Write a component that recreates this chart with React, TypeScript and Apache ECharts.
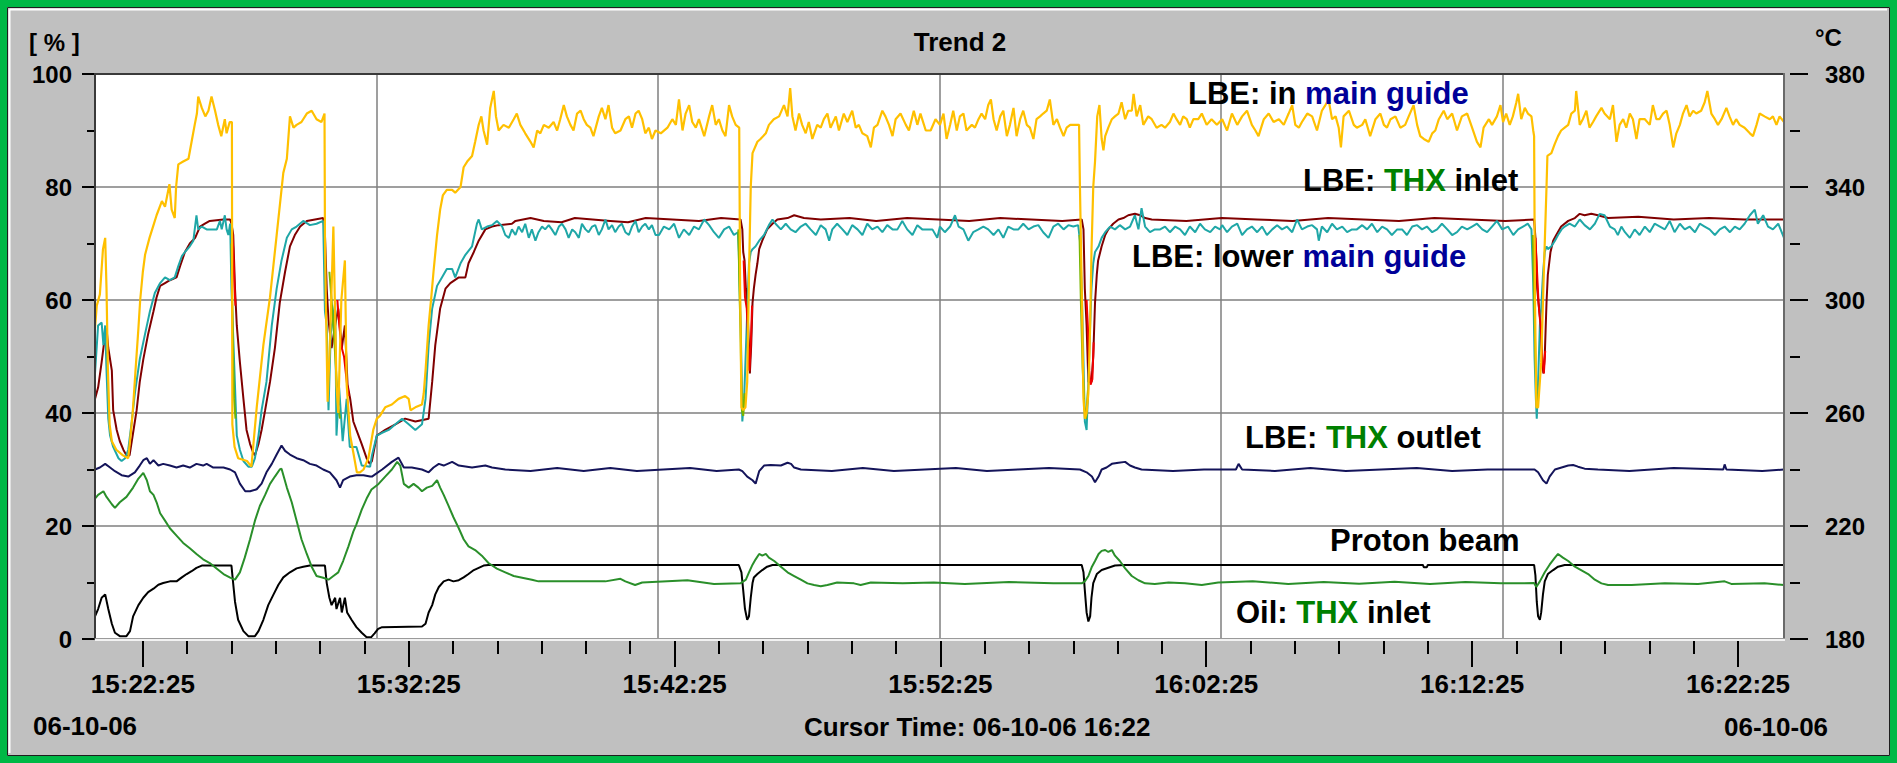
import React, { useEffect, useRef } from "react";
import * as echarts from "echarts";

// x values: seconds after 15:00:00
const X_MIN = 1237; // 15:20:37
const X_MAX = 5049; // 16:24:09
const majorTimeTicks = [1345, 1945, 2545, 3145, 3745, 4345, 4945];
const minorTimeTicks = [
  1445, 1545, 1645, 1745, 1845, 2045, 2145, 2245, 2345, 2445, 2645, 2745, 2845, 2945, 3045,
  3245, 3345, 3445, 3545, 3645, 3845, 3945, 4045, 4145, 4245, 4445, 4545, 4645, 4745, 4845,
];
const tempTicks = [180, 220, 260, 300, 340, 380];
const tempMinorTicks = [200, 240, 280, 320, 360];

// LBE: in main guide  (°C)
const lbeMainGuide = [
  [1237,290],[1241,298],[1248,302],[1255,318],[1260,322],[1263,304],[1266,276],[1270,256],[1275,250],[1285,247],[1300,245],[1312,244],[1316,250],[1322,260],[1328,274],[1335,290],[1339,300],[1345,310],[1350,316],[1360,322],[1368,326],[1376,330],[1388,335],[1395,333],[1405,341],[1410,332],[1417,329],[1420,340],[1425,348],[1436,349],[1448,350],[1455,356],[1462,362],[1467,366],[1470,372],[1478,368],[1486,365],[1493,367],[1500,372],[1508,367],[1515,362],[1522,358],[1530,364],[1534,359],[1541,363],[1546,363],[1547,256],[1552,248],[1560,244],[1580,243],[1590,241],[1602,262],[1617,284],[1632,301],[1647,323],[1662,345],[1670,350],[1677,365],[1685,361],[1692,362],[1703,363],[1715,366],[1726,367],[1737,364],[1748,363],[1755,366],[1756,322],[1758,300],[1762,264],[1768,288],[1775,326],[1782,270],[1786,260],[1793,300],[1801,314],[1805,270],[1813,252],[1820,246],[1828,239],[1835,239],[1843,240],[1854,244],[1865,254],[1873,258],
  [1880,259],[1892,262],[1907,263],[1922,265],[1937,266],[1945,265],[1949,261],[1960,262],[1975,263],[1979,267],[1983,275],[1990,291],[1996,301],[2001,310],[2009,323],[2016,332],[2022,337],[2031,339],[2043,339],[2050,338],[2062,340],[2069,347],[2077,349],[2088,351],[2095,356],[2103,362],[2109,365],[2114,360],[2122,355],[2129,368],[2137,374],[2142,365],[2148,360],[2159,362],[2171,361],[2182,364],[2189,366],[2197,362],[2208,359],[2220,356],[2227,354],[2235,360],[2242,359],[2250,362],[2261,361],[2272,363],[2280,360],[2287,364],[2295,369],[2302,365],[2310,362],[2317,360],[2325,366],[2333,367],[2340,364],[2347,362],[2355,361],[2362,358],[2374,365],[2381,368],[2389,364],[2396,369],[2404,361],[2411,359],[2423,360],[2434,364],[2442,365],[2449,361],[2457,366],[2464,367],[2472,364],[2479,359],[2487,361],[2494,357],[2502,360],
  [2514,359],[2529,361],[2540,364],[2548,362],[2555,371],[2563,360],[2570,366],[2578,369],[2585,363],[2593,361],[2600,364],[2612,358],[2623,365],[2630,369],[2638,362],[2645,364],[2653,360],[2660,358],[2668,369],[2675,365],[2683,362],[2691,361],[2693,304],[2696,262],[2700,261],[2705,262],[2709,271],[2714,317],[2717,340],[2721,352],[2732,356],[2739,357],[2751,359],[2758,362],[2769,364],[2781,365],[2792,369],[2800,365],[2806,375],[2811,365],[2818,360],[2826,366],[2833,362],[2841,359],[2848,363],[2856,357],[2867,362],[2875,361],[2882,364],[2890,366],[2897,361],[2909,365],[2916,360],[2927,366],[2935,363],[2946,367],[2954,361],[2961,362],[2969,359],[2980,358],[2988,354],[2995,361],[3003,362],[3014,367],[3021,365],[3029,362],[3037,358],[3044,364],[3055,366],[3067,362],[3074,360],[3085,367],[3093,362],[3100,366],[3112,360],[3123,360],[3134,364],
  [3144,362],[3152,366],[3159,357],[3167,362],[3174,367],[3182,360],[3189,365],[3197,366],[3204,360],[3216,362],[3223,361],[3231,364],[3238,366],[3246,364],[3253,369],[3259,371],[3265,364],[3272,360],[3280,365],[3287,367],[3295,358],[3302,362],[3310,368],[3317,358],[3325,364],[3332,367],[3340,362],[3347,361],[3355,357],[3362,364],[3370,365],[3377,366],[3385,367],[3392,371],[3400,362],[3408,364],[3415,361],[3423,358],[3430,361],[3438,362],[3445,362],[3453,362],[3458,362],[3460,340],[3464,304],[3468,265],[3471,258],[3475,260],[3479,267],[3483,291],[3486,317],[3490,340],[3494,349],[3499,365],[3504,369],[3509,357],[3513,353],[3517,358],[3524,361],[3532,364],[3539,365],[3547,366],[3554,370],[3562,364],[3569,367],[3577,367],[3581,373],[3588,365],[3596,369],[3603,362],[3614,365],[3622,364],[3633,361],[3644,362],[3652,361],[3663,363],[3671,366],[3678,364],[3686,362],[3693,365],[3701,364],[3708,361],[3716,364],[3727,364],[3735,366],[3746,362],[3757,364],[3769,362],
  [3781,364],[3792,360],[3803,366],[3815,362],[3826,365],[3837,367],[3848,362],[3856,360],[3863,358],[3875,364],[3886,366],[3897,363],[3909,364],[3920,362],[3931,366],[3939,369],[3946,362],[3954,361],[3961,363],[3973,366],[3984,365],[3995,360],[4006,367],[4014,369],[4021,371],[4029,364],[4037,365],[4044,361],[4049,354],[4055,365],[4067,367],[4078,362],[4085,361],[4097,362],[4104,364],[4115,358],[4127,364],[4138,366],[4146,362],[4153,361],[4161,364],[4172,365],[4183,361],[4194,362],[4202,365],[4213,369],[4221,362],[4228,358],[4236,357],[4247,356],[4255,359],[4262,360],[4270,364],[4281,367],[4289,364],[4300,366],[4311,360],[4322,365],[4334,366],[4345,361],[4356,356],[4364,354],[4371,361],[4383,364],[4390,362],[4401,365],[4409,369],
  [4415,363],[4422,366],[4430,362],[4437,365],[4445,370],[4449,373],[4456,364],[4464,368],[4471,366],[4479,365],[4483,360],[4485,358],[4487,300],[4490,262],[4494,262],[4501,278],[4507,310],[4513,340],[4515,351],[4524,352],[4531,355],[4539,358],[4546,360],[4554,361],[4562,362],[4569,366],[4577,367],[4580,374],[4588,362],[4595,364],[4603,367],[4610,361],[4618,363],[4625,365],[4637,368],[4644,366],[4656,364],[4663,369],[4671,356],[4678,362],[4686,364],[4693,361],[4701,366],[4708,364],[4716,357],[4723,364],[4735,364],[4746,362],[4753,369],[4761,364],[4768,364],[4776,366],[4784,367],[4791,362],[4799,354],[4806,359],[4814,362],[4821,366],[4829,369],[4836,365],[4844,367],[4851,366],[4862,367],[4870,370],[4876,374],[4885,366],[4893,364],[4900,362],[4908,364],[4919,368],[4926,365],[4934,362],[4941,364],[4949,362],[4960,361],[4972,359],[4979,358],[4987,362],[4994,366],[5005,365],[5017,364],[5024,365],[5032,362],[5039,365],[5049,363],
];

// LBE: THX inlet (°C)
const lbeThxInlet = [
  [1237,265],[1244,269],[1252,278],[1260,288],[1263,290],[1267,283],[1275,275],[1278,261],[1286,254],[1293,250],[1301,247],[1308,245],[1315,245],[1323,253],[1331,261],[1338,271],[1346,279],[1357,288],[1369,296],[1376,301],[1384,305],[1395,306],[1406,307],[1421,308],[1429,312],[1440,317],[1451,320],[1463,322],[1474,326],[1485,327],[1496,328],[1527,328.5],[1542,328.5],[1545,327],[1549,323],[1553,304],[1557,291],[1564,278],[1572,265],[1579,254],[1587,249],[1594,246],[1598,245],[1606,249],[1613,254],[1621,261],[1632,271],[1643,283],[1654,299],[1666,310],[1677,319],[1688,323],[1700,326],[1715,328],[1752,329],[1756,323],[1760,304],[1764,293],[1771,283],[1779,291],[1786,297],[1794,283],[1801,291],[1807,270],[1813,265],[1820,257],[1827,254],[1839,249],[1850,244],[1857,242],[1862,243],[1873,252],[1892,254],[1915,256],[1937,258],[1960,257],[1990,258],[1998,271],[2005,284],[2016,297],[2028,304],[2039,306],[2058,308],[2073,308],[2080,313],[2092,317],[2103,321],[2118,325],[2133,326],[2148,326.5],[2178,327],[2186,328],[2220,329],[2250,328],[2290,327.5],[2320,329],[2360,328.5],[2400,328],[2440,327.5],[2480,329],[2540,328.5],[2600,328],[2650,329],[2694,328.5],[2698,325],[2700,317],[2703,314],[2706,304],[2709,299],[2713,284],[2715,274],[2718,284],[2721,299],[2724,304],[2728,309],[2732,313],[2736,318],[2743,321],[2754,325],[2766,327],[2777,328.5],[2800,329],[2815,330],[2837,329],[2875,328.5],[2940,329],[3000,328],[3070,329],[3140,328.5],[3210,328],[3280,329],[3350,328.5],[3420,328],[3464,328.5],[3468,325],[3471,304],[3475,291],[3479,271],[3486,271],[3490,280],[3494,299],[3498,309],[3501,314],[3509,319],[3517,323],[3524,325],[3535,327],[3547,328.5],[3558,329],[3569,330],[3584,330.5],[3596,330],[3607,329],[3622,328.5],[3700,328],[3780,329],[3860,328.5],[3940,328],[4020,329],[4100,328.5],[4180,328],[4260,329],[4340,328.5],[4420,328],[4485,328.5],[4488,322],[4490,314],[4492,304],[4495,299],[4500,291],[4503,278],[4506,274],[4509,280],[4513,299],[4516,309],[4522,317],[4528,321],[4535,323],[4546,326],[4562,328],[4577,329],[4588,330.5],[4599,330],[4614,330.5],[4629,330],[4652,329],[4720,329.5],[4800,328.5],[4880,329],[4960,328.5],[5049,328.5],
];

// LBE: lower main guide (°C)
const lbeLowerMainGuide = [
  [1237,274],[1244,291],[1252,292],[1256,284],[1260,291],[1263,275],[1267,258],[1271,252],[1278,248],[1290,244],[1297,243],[1305,244],[1312,247],[1320,257],[1327,267],[1338,279],[1350,288],[1361,296],[1372,302.5],[1384,306],[1395,308],[1406,307],[1417,308],[1425,312],[1433,315.5],[1440,317],[1451,319],[1459,321],[1466,330],[1470,325],[1478,326],[1489,325],[1500,325],[1512,325],[1519,328],[1523,325],[1530,330],[1534,325],[1538,323],[1542,327],[1545,304],[1548,291],[1557,252],[1564,247],[1572,243],[1583,241],[1591,241],[1598,244],[1606,252],[1613,261],[1624,271],[1636,291],[1647,304],[1658,314],[1670,322],[1681,325],[1692,326],[1707,328],[1722,326.5],[1737,327],[1752,328],[1756,296],[1760,291],[1764,261],[1769,288],[1779,299],[1782,252],[1788,269],[1796,250],[1805,265],[1812,248],[1827,248],[1839,241.4],[1858,241],
  [1862,245],[1873,252],[1885,253],[1900,254],[1915,256],[1930,258],[1945,256],[1960,254],[1975,256],[1983,265],[1990,284],[1998,297],[2009,305],[2020,308],[2031,311],[2043,311],[2050,308],[2062,313],[2073,316],[2088,319],[2099,327],[2103,328.5],[2110,325],[2122,326],[2133,326.5],[2144,328],[2156,326],[2163,323],[2171,322],[2178,325],[2186,323],[2193,326],[2201,324],[2208,327],[2216,322],[2223,325],[2231,321],[2238,324],[2246,326],[2253,325],[2261,326.5],[2268,325],[2276,323],[2284,326],[2291,327],[2299,325],[2306,322],[2314,325],[2321,324],[2329,322],[2336,327],[2344,325],[2351,324],[2359,326],[2366,326.5],[2374,323],[2381,325],[2389,328.5],[2396,325],[2404,326.5],[2411,324],[2419,326],[2426,327],[2434,324],[2442,323],[2449,326],[2457,328],[2464,324],[2472,326],[2479,327],[2487,325],[2494,326.5],[2502,323],
  [2510,323],[2521,326],[2533,325],[2544,327],[2555,322],[2566,325],[2578,323],[2589,326],[2600,325],[2612,328.5],[2623,326.5],[2634,324],[2645,322],[2657,325],[2668,326],[2679,323],[2688,324],[2690,317],[2693,299],[2696,278],[2698,257],[2702,265],[2708,291],[2713,313],[2717,317],[2721,318],[2728,319],[2736,321],[2747,323],[2758,326.5],[2766,328.5],[2773,327],[2785,325],[2796,327],[2807,325],[2818,324],[2830,326],[2841,327],[2852,325],[2864,323],[2875,326.5],[2886,325],[2894,321],[2901,325],[2912,327],[2924,325],[2935,323],[2946,326.5],[2958,325],[2969,323],[2980,327],[2991,325],[3003,326],[3014,324],[3025,326.5],[3037,325],[3048,325],[3059,328],[3070,325],[3082,323],[3093,326.5],[3104,325],[3116,325],[3127,325],[3138,322],
  [3144,326],[3155,324],[3167,326],[3178,330],[3186,326],[3197,325],[3208,321],[3219,324],[3231,325],[3242,326],[3253,325],[3265,323],[3276,325],[3287,322],[3298,326],[3310,325],[3321,325],[3332,327],[3344,325],[3355,326],[3366,326.5],[3377,324],[3389,322],[3400,326],[3411,327],[3423,325],[3434,326.5],[3445,326],[3456,326.5],[3460,321],[3464,304],[3468,278],[3471,257],[3475,254],[3479,271],[3483,291],[3486,304],[3490,313],[3494,317],[3502,319],[3509,322],[3517,324],[3528,326],[3539,325],[3550,326.5],[3562,325],[3573,326],[3584,330],[3592,325],[3599,332.5],[3607,326],[3618,324],[3629,325],[3641,325],[3652,326],[3663,324],[3675,326],[3686,325],[3697,323],[3708,326],[3720,324],[3731,327],[3742,325],[3754,324],[3765,326],[3776,325],
  [3781,326.5],[3792,324],[3803,326],[3815,327],[3826,323],[3837,325],[3848,326],[3860,324],[3871,326],[3882,323],[3894,325],[3905,326.5],[3916,325],[3927,326],[3939,324],[3950,328.5],[3961,325],[3973,326],[3984,326.5],[3995,325],[3999,321],[4006,326],[4018,324],[4029,327],[4040,325],[4052,326],[4063,324],[4074,325],[4085,325],[4097,326.5],[4108,325],[4119,327],[4131,324],[4142,326],[4153,325],[4164,323],[4176,325],[4187,325],[4198,323],[4210,326],[4221,326.5],[4232,325],[4243,326],[4255,324],[4266,325],[4277,327],[4289,325],[4300,323],[4311,324],[4322,326],[4334,325],[4345,326],[4356,327],[4368,325],[4379,324],[4390,326],[4401,328],[4413,325],
  [4426,326],[4438,323],[4449,325],[4460,326],[4471,327],[4479,325],[4483,306],[4486,280],[4489,265],[4491,258],[4494,271],[4498,291],[4501,297],[4505,309],[4509,317],[4513,319],[4516,318],[4524,319],[4532,321],[4539,323],[4547,325],[4554,326],[4565,327],[4577,326],[4588,328.5],[4599,326.5],[4611,325],[4622,327],[4633,330.5],[4644,330],[4656,326],[4667,325],[4674,323],[4682,326],[4690,324],[4701,322],[4712,325],[4723,323],[4735,326],[4746,324],[4757,327],[4769,326],[4780,325],[4791,328],[4802,324],[4814,327],[4825,325],[4836,326],[4848,324],[4859,327],[4870,326],[4881,325],[4893,323],[4904,325],[4915,326],[4927,324],[4938,326],[4949,325],[4960,327],[4972,330],[4983,332],[4990,327],[5002,330],[5013,326],[5024,325],[5036,327],[5049,322],
];

// LBE: THX outlet (°C)
const lbeThxOutlet = [
  [1237,240],[1248,240.7],[1260,242],[1271,240.7],[1282,239.4],[1297,238],[1312,237.5],[1327,239],[1338,241.4],[1346,243.3],[1354,244],[1361,242],[1369,243.3],[1380,241.4],[1391,242],[1406,241.4],[1421,240.7],[1436,241.4],[1451,240.7],[1466,242],[1481,241.4],[1489,242],[1504,240.7],[1527,240.7],[1542,240],[1553,239],[1564,235],[1576,232.3],[1587,232.3],[1602,233],[1613,235],[1624,239],[1636,242],[1647,245.3],[1658,248.5],[1666,246.6],[1677,245.3],[1692,244],[1707,243.3],[1722,242],[1737,241.4],[1752,240],[1767,239],[1782,236.2],[1790,233.6],[1797,236.2],[1812,237.5],[1827,238],[1843,238],[1858,237.5],[1862,237.5],[1885,240],[1907,242.7],[1922,244.2],[1934,240.7],[1952,240.7],[1975,240],[1990,239],[2001,240.7],[2013,242],[2024,241.4],[2043,242.7],[2058,241.4],[2088,240.7],[2118,241.4],[2133,240.7],[2163,240],[2220,239.5],[2280,240.5],[2340,239.5],[2400,240.5],[2460,239.5],[2520,240],[2580,240.5],[2640,239.5],[2690,240],[2698,239.4],[2709,237.5],[2721,236.2],[2728,235],[2736,239.4],[2747,241.4],[2762,241.6],[2785,241.4],[2800,242.4],[2808,242],[2815,240.7],[2830,240],[2900,239.5],[2970,240.5],[3040,239.5],[3110,240],[3180,240.5],[3250,239.5],[3320,240],[3390,240.5],[3460,240],[3475,239],[3487,237.5],[3494,235.5],[3502,237.5],[3509,240],[3520,240.7],[3532,242],[3547,242.4],[3562,242.7],[3573,241.4],[3584,240.7],[3599,240],[3670,239.5],[3740,240],[3812,240],[3818,242],[3826,240],[3900,239.5],[3980,240.5],[4060,239.5],[4140,240],[4220,240.5],[4300,239.5],[4380,240],[4486,240],[4494,239],[4505,236.2],[4513,235],[4520,237.5],[4532,240],[4547,240.7],[4562,241.4],[4573,241.6],[4584,241],[4599,240.3],[4629,240],[4700,239.5],[4800,240.5],[4912,240],[4915,241.8],[4919,240],[5000,239.5],[5049,240],
];

// Oil: THX inlet (°C)
const oilThxInlet = [
  [1237,229.7],[1244,231],[1256,232.3],[1263,230.3],[1275,227.7],[1282,226.4],[1293,228.4],[1308,230.3],[1323,233.6],[1335,236.8],[1346,238.8],[1354,236.2],[1361,232.3],[1369,231],[1376,228.4],[1384,224.5],[1395,221.9],[1406,219.2],[1421,216.6],[1436,214],[1451,212.1],[1466,210.1],[1481,208.2],[1496,206.9],[1512,204.9],[1527,203],[1542,201.7],[1553,201],[1564,203.6],[1575,208.8],[1587,215.3],[1598,221.9],[1609,227.1],[1621,231],[1632,234.9],[1643,237.5],[1654,240],[1658,240.3],[1670,233.6],[1681,228.4],[1692,221.9],[1703,215.3],[1715,210.1],[1726,205.6],[1737,202.3],[1752,201.7],[1764,201],[1775,202.3],[1786,203.6],[1797,207.6],[1809,212.8],[1820,218],[1827,220.6],[1839,225.8],[1850,229.7],[1861,232.9],[1877,234.9],[1892,237.5],[1907,240],[1919,242.7],[1926,241.4],[1934,234.9],[1945,233.6],[1956,234.9],[1967,233.6],[1975,232.3],[1986,233.6],[1998,234.2],[2009,236.2],[2016,233.6],[2024,231],[2035,227.1],[2046,223.1],[2058,219.2],[2069,215.3],[2080,212.8],[2095,211.5],[2110,209.5],[2125,206.9],[2144,204.9],[2163,203.6],[2182,202.3],[2201,201.7],[2223,201],[2238,200.4],[2276,200.4],[2314,200.4],[2351,200.4],[2389,200.4],[2423,201.3],[2434,200.4],[2456,199.1],[2472,200],[2574,200.8],[2634,199.5],[2694,199.7],[2706,201],[2713,203.6],[2721,206.3],[2728,208.2],[2736,210.1],[2743,209.5],[2751,210.1],[2758,208.8],[2770,207.6],[2785,205.6],[2800,203.6],[2815,202.3],[2830,201],[2845,199.7],[2860,199.1],[2875,198.7],[2890,199.1],[2912,200],[2950,199.7],[2965,199.1],[2988,200],[3060,199.7],[3130,200],[3200,199.5],[3300,200.2],[3400,199.7],[3464,199.7],[3471,200.4],[3479,202.3],[3487,205.6],[3494,207.6],[3502,210.1],[3509,211.2],[3517,211.5],[3524,210.8],[3532,211.5],[3539,209.5],[3550,207.6],[3562,205],[3577,202.3],[3592,200.8],[3607,199.7],[3629,199.5],[3660,200],[3697,199.7],[3735,199.1],[3772,200],[3850,200.4],[3930,199.5],[4010,200.2],[4090,199.6],[4170,200.3],[4250,199.5],[4330,200.2],[4410,199.7],[4485,199.8],[4490,198.4],[4498,200.4],[4509,203.6],[4520,206.3],[4532,208.8],[4539,210.1],[4550,208.8],[4562,207.6],[4577,205.6],[4592,204.3],[4607,203],[4622,201],[4637,199.7],[4652,199.1],[4705,199.1],[4780,199.7],[4855,199.5],[4915,200.4],[4930,199.5],[5005,199.7],[5049,199.1],
];

// Proton beam (%)
const protonBeam = [
  [1237,4],[1244,5.3],[1252,7.3],[1260,7.9],[1267,5.3],[1275,2.7],[1282,1.1],[1293,0.5],[1308,0.5],[1316,1.4],[1323,4],[1335,6],[1346,7.3],[1357,8.3],[1369,8.9],[1380,9.6],[1391,9.9],[1406,10.2],[1421,10.2],[1433,10.9],[1444,11.5],[1455,12],[1466,12.6],[1478,13],[1545,13],[1548,10.5],[1553,6.6],[1560,3.4],[1572,1.4],[1583,0.5],[1598,0.5],[1606,1.4],[1617,3.4],[1628,6],[1640,7.9],[1651,9.6],[1662,10.9],[1677,11.8],[1692,12.5],[1707,12.8],[1722,13],[1756,13],[1760,9.9],[1766,7.3],[1771,6],[1779,7.3],[1782,5.3],[1790,7.3],[1794,4.7],[1801,7.3],[1806,4.7],[1816,3.4],[1827,2.1],[1839,1.1],[1850,0.3],[1860,0.3],[1868,1],[1876,1.8],[1885,2.1],[1975,2.2],[1983,2.7],[1990,4.7],[1998,6],[2005,7.9],[2013,9.2],[2024,10.2],[2035,10.5],[2046,10.2],[2058,10.4],[2069,10.9],[2080,11.5],[2092,12.2],[2103,12.6],[2114,13],[2125,13.1],[2690,13.1],[2696,11.8],[2700,8.6],[2704,5.3],[2709,3.4],[2713,4],[2717,7.3],[2721,9.9],[2724,10.9],[2732,11.5],[2743,12.2],[2754,12.8],[2766,13.1],[3464,13.1],[3468,11.8],[3471,8.6],[3475,4.7],[3479,3.1],[3483,4],[3486,7.3],[3490,9.9],[3498,11.5],[3509,12.2],[3524,12.6],[3539,13],[3560,13.1],[4234,13.1],[4236,12.7],[4243,12.7],[4245,13.1],[4485,13.1],[4488,11.2],[4491,6.6],[4494,4],[4498,3.4],[4501,4.7],[4505,7.9],[4509,10.2],[4516,11.5],[4528,12.2],[4539,12.8],[4554,13.1],[5049,13.1],
];

// short transient traces visible only during the fast drops (°C)
const redTransients = [
  [[1546,326],[1549,318],[1552,304],[1554,298]],
  [[1784,300],[1789,290],[1794,283],[1799,280],[1806,270],[1810,266]],
  [[2701,314],[2704,301],[2708,297],[2711,286],[2714,275],[2717,284],[2720,298]],
  [[3475,300],[3478,290],[3481,275],[3484,270],[3488,272],[3491,285]],
  [[4488,322],[4491,312],[4495,299],[4500,290],[4504,278],[4507,274],[4510,282]],
];
const limeTransients = [
  [[1545,320],[1548,285],[1551,265],[1554,258]],
  [[1766,310],[1771,300],[1776,289],[1781,275],[1786,262],[1790,258]],
  [[2689,325],[2692,300],[2694,290],[2695,278],[2697,261],[2700,259],[2703,267]],
  [[3459,323],[3462,300],[3466,276],[3470,262],[3474,258],[3478,268]],
  [[4482,323],[4485,300],[4488,280],[4491,265],[4494,262]],
];

const FONT = '"Liberation Sans", Arial, Helvetica, sans-serif';
const G = { left: 95, top: 74, width: 1689, height: 565 };
const GR = G.left + G.width;
const GB = G.top + G.height;

const fmtTime = (s: number) => {
  const h = 15 + Math.floor(s / 3600);
  const m = Math.floor((s % 3600) / 60);
  const ss = Math.round(s % 60);
  return `${h}:${String(m).padStart(2, "0")}:${String(ss).padStart(2, "0")}`;
};

const line = (name: string, data: number[][], color: string, yAxisIndex: number, width = 2) => ({
  type: "line",
  name,
  data,
  xAxisIndex: 0,
  yAxisIndex,
  symbol: "none",
  showSymbol: false,
  silent: true,
  lineStyle: { color, width },
  itemStyle: { color },
});

const txt = (x: number, y: number, text: string, size: number, align = "left", rich?: any) => ({
  type: "text",
  x,
  y,
  z: 120,
  silent: true,
  style: {
    text,
    fill: "#000",
    font: `bold ${size}px ${FONT}`,
    textAlign: align,
    textVerticalAlign: "middle",
    ...(rich ? { rich } : {}),
  },
});

const richStyles = (size: number) => ({
  k: { fill: "#000", fontSize: size, fontWeight: "bold", fontFamily: FONT },
  b: { fill: "#000099", fontSize: size, fontWeight: "bold", fontFamily: FONT },
  g: { fill: "#008000", fontSize: size, fontWeight: "bold", fontFamily: FONT },
});

const frameLine = (x1: number, y1: number, x2: number, y2: number, color: string, w: number) => ({
  type: "line",
  z: 110,
  silent: true,
  shape: { x1, y1, x2, y2 },
  style: { stroke: color, lineWidth: w },
});

function buildOption() {
  const series: any[] = [
    line("Proton beam", protonBeam, "#000000", 0),
    line("Oil: THX inlet", oilThxInlet, "#2a8f2a", 1),
    line("LBE: THX outlet", lbeThxOutlet, "#14145a", 1),
    line("LBE: THX inlet", lbeThxInlet, "#800000", 1),
    line("LBE: lower main guide", lbeLowerMainGuide, "#1fa7a7", 1),
    ...limeTransients.map((d) => line("transient a", d, "#78b400", 1)),
    ...redTransients.map((d) => line("transient b", d, "#ee0000", 1)),
    line("LBE: in main guide", lbeMainGuide, "#ffc000", 1, 2.2),
  ];

  const R = 31;
  return {
    animation: false,
    backgroundColor: "#c0c0c0",
    grid: { ...G, show: true, backgroundColor: "#ffffff", borderWidth: 0, containLabel: false },
    xAxis: [
      {
        type: "value",
        min: X_MIN,
        max: X_MAX,
        position: "bottom",
        axisLine: { show: false },
        splitLine: { show: false },
        axisTick: { show: true, customValues: majorTimeTicks, length: 28, lineStyle: { color: "#000", width: 2 } },
        axisLabel: {
          show: true,
          customValues: majorTimeTicks,
          formatter: (v: number) => fmtTime(v),
          margin: 32,
          color: "#000",
          fontSize: 26,
          fontWeight: "bold",
          fontFamily: FONT,
        },
      },
      {
        type: "value",
        min: X_MIN,
        max: X_MAX,
        position: "bottom",
        axisLine: { show: false },
        splitLine: { show: false },
        axisTick: { show: true, customValues: minorTimeTicks, length: 15, lineStyle: { color: "#000", width: 2 } },
        axisLabel: { show: false },
      },
      {
        type: "value",
        min: 0,
        max: 6,
        interval: 1,
        position: "top",
        axisLine: { show: false },
        axisTick: { show: false },
        axisLabel: { show: false },
        splitLine: { show: true, lineStyle: { color: "#7f7f7f", width: 1.5 } },
      },
    ],
    yAxis: [
      {
        type: "value",
        min: 0,
        max: 100,
        interval: 20,
        position: "left",
        axisLine: { show: false },
        axisTick: { show: true, length: 13, lineStyle: { color: "#000", width: 2 } },
        minorTick: { show: true, splitNumber: 2, length: 8, lineStyle: { color: "#000", width: 2 } },
        splitLine: { show: true, lineStyle: { color: "#7f7f7f", width: 1.5 } },
        axisLabel: { margin: 23, color: "#000", fontSize: 24, fontWeight: "bold", fontFamily: FONT },
      },
      {
        type: "value",
        min: 180,
        max: 380,
        position: "right",
        offset: 6,
        axisLine: { show: false },
        splitLine: { show: false },
        axisTick: { show: true, customValues: tempTicks, length: 18, lineStyle: { color: "#000", width: 2 } },
        axisLabel: {
          customValues: tempTicks,
          margin: 35,
          color: "#000",
          fontSize: 24,
          fontWeight: "bold",
          fontFamily: FONT,
        },
      },
      {
        type: "value",
        min: 180,
        max: 380,
        position: "right",
        offset: 6,
        axisLine: { show: false },
        splitLine: { show: false },
        axisTick: { show: true, customValues: tempMinorTicks, length: 10, lineStyle: { color: "#000", width: 2 } },
        axisLabel: { show: false },
      },
    ],
    series,
    graphic: [
      // outer green frame and panel bevel
      { type: "rect", z: 100, silent: true, shape: { x: 3.5, y: 3.5, width: 1890, height: 756 }, style: { fill: "none", stroke: "#00b846", lineWidth: 7 } },
      { type: "rect", z: 101, silent: true, shape: { x: 7.5, y: 7.5, width: 1882, height: 748 }, style: { fill: "none", stroke: "#1e1e1e", lineWidth: 1 } },
      frameLine(9.5, 9.5, 1887, 9.5, "#ffffff", 2),
      frameLine(9.5, 9.5, 9.5, 753, "#ffffff", 2),
      // plot frame
      frameLine(G.left - 1, G.top, GR + 1, G.top, "#3a3a3a", 2),
      frameLine(G.left, G.top - 1, G.left, GB + 1, "#3a3a3a", 2),
      frameLine(GR, G.top - 1, GR, GB + 1, "#6a6a6a", 2),
      frameLine(G.left, GB - 0.5, GR + 1, GB - 0.5, "#9a9a9a", 1),
      frameLine(G.left, GB + 1, GR + 1, GB + 1, "#f2f2f2", 2),
      // header / footer texts
      txt(29, 42, "[ % ]", 24),
      txt(960, 42, "Trend 2", 26, "center"),
      txt(1815, 37, "°C", 24),
      txt(33, 726, "06-10-06", 26),
      txt(804, 727, "Cursor Time: 06-10-06 16:22", 26),
      txt(1724, 727, "06-10-06", 26),
      // series annotations
      txt(1188, 93, "{k|LBE: in }{b|main guide}", R, "left", richStyles(R)),
      txt(1303, 180, "{k|LBE: }{g|THX}{k| inlet}", R, "left", richStyles(R)),
      txt(1132, 256, "{k|LBE: lower }{b|main guide}", R, "left", richStyles(R)),
      txt(1245, 437, "{k|LBE: }{g|THX}{k| outlet}", R, "left", richStyles(R)),
      txt(1330, 540, "Proton beam", R),
      txt(1236, 612, "{k|Oil: }{g|THX}{k| inlet}", R, "left", richStyles(R)),
    ],
  };
}

export default function App() {
  const ref = useRef<HTMLDivElement>(null);
  useEffect(() => {
    if (!ref.current) return;
    const chart = echarts.init(ref.current, undefined, { renderer: "svg" });
    chart.setOption(buildOption() as any);
    return () => chart.dispose();
  }, []);
  return <div ref={ref} style={{ position: "absolute", left: 0, top: 0, width: 1897, height: 763 }} />;
}
